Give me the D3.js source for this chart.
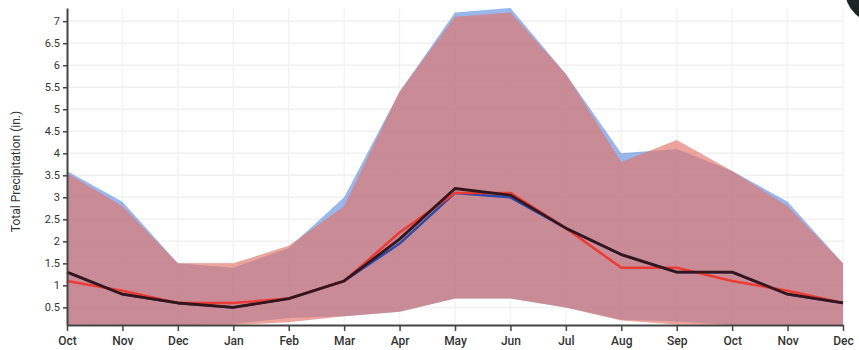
<!DOCTYPE html>
<html>
<head>
<meta charset="utf-8">
<script src="https://cdn.jsdelivr.net/npm/d3@7"></script>
<style>
  html, body { margin: 0; padding: 0; background: #fff; }
  svg { display: block; font-family: Roboto, "Noto Sans", sans-serif; }
</style>
</head>
<body>
<svg id="chart" width="859" height="350"></svg>
<script>
// ---- data ----
const months = ["Oct","Nov","Dec","Jan","Feb","Mar","Apr","May","Jun","Jul","Aug","Sep","Oct","Nov","Dec"];
const yTicks = [0.5,1,1.5,2,2.5,3,3.5,4,4.5,5,5.5,6,6.5,7];

const blueUpper = [3.6,2.9,1.5,1.4,1.85,3.0,5.4,7.2,7.3,5.8,4.0,4.1,3.6,2.9,1.5];
const blueLower = [0.1,0.1,0.1,0.12,0.26,0.3,0.4,0.7,0.7,0.5,0.22,0.18,0.1,0.1,0.1];
const redUpper  = [3.55,2.8,1.5,1.5,1.9,2.8,5.4,7.1,7.2,5.8,3.8,4.3,3.6,2.8,1.5];
const redLower  = [0.1,0.1,0.1,0.1,0.16,0.3,0.4,0.7,0.7,0.5,0.2,0.11,0.1,0.1,0.1];

const blueLine  = [1.3,0.8,0.6,0.5,0.7,1.1,1.95,3.1,3.0,2.3,1.7,1.3,1.3,0.8,0.6];
const redLine   = [1.1,0.88,0.6,0.6,0.7,1.1,2.2,3.1,3.1,2.3,1.4,1.4,1.1,0.88,0.6];
const blackLine = [1.3,0.8,0.6,0.5,0.7,1.1,2.05,3.2,3.05,2.3,1.7,1.3,1.3,0.8,0.6];

// ---- layout ----
const svg = d3.select("#chart");
const mLeft = 67, mRight = 843, mTop = 8, mBottom = 325;

const x = d3.scaleLinear().domain([0, months.length - 1]).range([mLeft, mRight]);
const y = d3.scaleLinear().domain([0.1, 7.3]).range([mBottom, mTop]);
const idx = d3.range(months.length);

// corner decoration
svg.append("circle").attr("cx", 878).attr("cy", -10).attr("r", 33).attr("fill", "#1c2626");

// grid
svg.append("g").selectAll("line").data(yTicks).join("line")
  .attr("x1", mLeft).attr("x2", mRight)
  .attr("y1", d => y(d)).attr("y2", d => y(d))
  .attr("stroke", "#f0f0f0").attr("stroke-width", 1.5);
svg.append("g").selectAll("line").data(idx.slice(1)).join("line")
  .attr("x1", d => x(d)).attr("x2", d => x(d))
  .attr("y1", mTop).attr("y2", mBottom)
  .attr("stroke", "#f3f3f3").attr("stroke-width", 1.5);

// areas
const area = (up, lo) => d3.area()
  .x(i => x(i)).y0(i => y(lo[i])).y1(i => y(up[i]))(idx);

svg.append("path").attr("d", area(blueUpper, blueLower))
  .attr("fill", "#5a8ade").attr("fill-opacity", 0.62);
svg.append("path").attr("d", area(redUpper, redLower))
  .attr("fill", "#e2756a").attr("fill-opacity", 0.66);

// lines
const line = vals => d3.line().x(i => x(i)).y(i => y(vals[i]))(idx);
svg.append("path").attr("d", line(blueLine)).attr("fill", "none")
  .attr("stroke", "#2d4aa8").attr("stroke-width", 2.5).attr("stroke-linejoin", "round");
svg.append("path").attr("d", line(redLine)).attr("fill", "none")
  .attr("stroke", "#ec3b34").attr("stroke-width", 2.5).attr("stroke-linejoin", "round");
svg.append("path").attr("d", line(blackLine)).attr("fill", "none")
  .attr("stroke", "#32161c").attr("stroke-width", 2.8).attr("stroke-linejoin", "round");

// axes
const xAxis = svg.append("g").attr("transform", `translate(0,${mBottom})`)
  .call(d3.axisBottom(x).tickValues(idx).tickFormat(i => months[i]).tickSize(6).tickSizeOuter(0));
const yAxis = svg.append("g").attr("transform", `translate(${mLeft},0)`)
  .call(d3.axisLeft(y).tickValues(yTicks).tickFormat(d => String(d)).tickSize(4).tickSizeOuter(0));

[xAxis, yAxis].forEach(g => {
  g.select(".domain").attr("stroke", "#444").attr("stroke-width", 2);
  g.selectAll(".tick line").attr("stroke", "#444").attr("stroke-width", 1.5);
  g.selectAll("text").attr("fill", "#333").style("font-family", "Roboto, sans-serif");
});
xAxis.selectAll("text").style("font-size", "12px").style("font-weight", 500).attr("dy", "0.9em");
yAxis.selectAll("text").style("font-size", "11px");

svg.append("text")
  .attr("transform", `translate(20,${(mTop + mBottom) / 2 + 5}) rotate(-90)`)
  .attr("text-anchor", "middle")
  .attr("fill", "#333")
  .style("font-size", "12px")
  .text("Total Precipitation (in.)");
</script>
</body>
</html>
